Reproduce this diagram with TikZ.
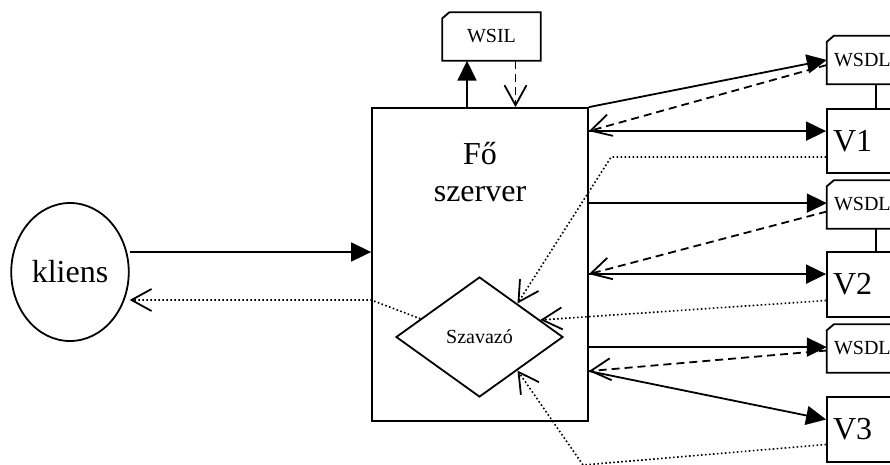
\documentclass[tikz,border=0pt]{standalone}
\usepackage{fontspec}
\setmainfont{Liberation Serif}
\usetikzlibrary{arrows.meta,shapes.geometric,calc}
\newcommand\txtbig{\fontsize{32}{37}\selectfont}
\newcommand\txtsmall{\fontsize{20}{24}\selectfont}
\tikzset{
  line/.style={line width=1.8pt},
  call/.style={line, -{Triangle[length=20pt,width=19pt]}},
  reply/.style={line, dash pattern=on 8pt off 5pt, -{Straight Barb[length=20pt,width=22pt,line width=1.8pt]}},
  vote/.style={line width=1.6pt, dash pattern=on 1.6pt off 2.4pt, -{Straight Barb[length=20pt,width=22pt,line width=1.8pt]}},
  doc/.style={minimum width=98pt, minimum height=48pt, font=\txtsmall},
  wsdl/.style={doc, text width=84pt, inner xsep=7pt, align=left},
  vbox/.style={draw, line, minimum height=65pt, text width=86pt, inner xsep=6pt, align=left, font=\txtbig}
}
\begin{document}
\begin{tikzpicture}[x=1pt,y=-1pt]
		\useasboundingbox (0,0) rectangle (890,464);
		\node[draw, line, ellipse, minimum width=116pt, minimum height=138pt, font=\txtbig] (kliens) at (70,272) {kliens};
		\node[draw, line, minimum width=216pt, minimum height=313pt] (srv) at (480,264.5) {};
		\node[font=\txtbig, align=center] (srvname) at (480,172) {Fő\\szerver};
		\node[draw, line, diamond, minimum width=167pt, minimum height=120pt, inner sep=0pt, font=\txtsmall] (voter) at (479.5,337) {Szavazó};
		\node[doc] (wsil) at (491.5,36.5) {WSIL};
		\node[wsdl] (wsdl1) at (876,60) {WSDL};
		\node[wsdl] (wsdl2) at (876,204.5) {WSDL};
		\node[wsdl] (wsdl3) at (876,348.5) {WSDL};
		\node[vbox, minimum height=64pt] (v1) at (876,141) {V1};
		\node[vbox] (v2) at (876,284.5) {V2};
		\node[vbox] (v3) at (876,429.5) {V3};
		\foreach \d in {wsil,wsdl1,wsdl2,wsdl3}{
			\draw[line] ([yshift=-6pt]\d.north west) -- ([xshift=7pt]\d.north west) -- (\d.north east) -- (\d.south east) -- (\d.south west) -- cycle;
			\fill ([yshift=-6pt]\d.north west) -- ([xshift=7pt]\d.north west) -- ([xshift=3pt,yshift=-4pt]\d.north west) -- cycle;
		}
		\draw[line] (wsdl1.south) -- (v1.north);
		\draw[line] (wsdl2.south) -- (v2.north);
		\coordinate (wu) at ([xshift=-24.5pt]wsil.south);
		\coordinate (wd) at ([xshift=24pt]wsil.south);
		\coordinate (w1) at ([yshift=12.5pt]srv.west);
		\coordinate (w2) at ([yshift=-35.5pt]srv.west);
		\coordinate (e1) at ([yshift=-24pt]srv.north east);
		\coordinate (e2) at ([yshift=-96pt]srv.north east);
		\coordinate (e3) at ([yshift=-167pt]srv.north east);
		\coordinate (e4) at ([yshift=-240pt]srv.north east);
		\coordinate (e5) at ([yshift=-264pt]srv.north east);
		\draw[call] (wu |- srv.north) -- (wu);
		\draw[reply] (wd) -- (wd |- srv.north);
		\draw[call] (kliens.east |- w1) -- (w1);
		\draw[vote] ($(voter.west)!0.3!(voter.north)$) -- (w2) -- (kliens.east |- w2);
		\draw[call] (srv.north east) -- (wsdl1.west);
		\draw[reply] ([yshift=-5pt]wsdl1.west) -- (e1);
		\draw[call] (e1) -- (e1 -| v1.west);
		\draw[vote] ([yshift=-16pt]v1.west) -- ++(-215,0) -- ($(voter.north)!0.45!(voter.east)$);
		\draw[call] (e2) -- (e2 -| wsdl2.west);
		\draw[reply] ([yshift=-7pt]wsdl2.west) -- (e3);
		\draw[call] (e3) -- (e3 -| v2.west);
		\draw[vote] ([yshift=-16pt]v2.west) -- ($(voter.north)!0.72!(voter.east)$);
		\draw[call] (e4) -- (e4 -| wsdl3.west);
		\draw[reply] ([yshift=-2pt]wsdl3.west) -- (e5);
		\draw[call] (e5) -- ([yshift=10pt]v3.west);
		\draw[vote] ([yshift=-15pt]v3.west) -- (583,465) -- ($(voter.south)!0.45!(voter.east)$);
	\end{tikzpicture}
\end{document}
